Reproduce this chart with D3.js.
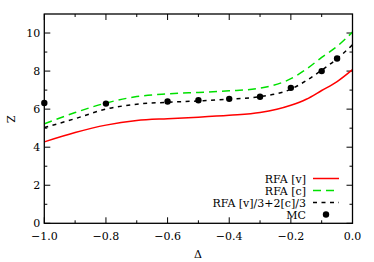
<!DOCTYPE html>
<html><head><meta charset="utf-8">
<script src="https://cdn.jsdelivr.net/npm/d3@7"></script>
<style>body{margin:0;background:#fff}svg{display:block}</style>
</head><body>
<script>
const deltas = [-1.0,-0.9,-0.8,-0.7,-0.6,-0.5,-0.4,-0.3,-0.2,-0.15,-0.1,-0.05,0.0];
const rfaV   = [4.28,4.77,5.16,5.40,5.50,5.58,5.68,5.82,6.20,6.52,6.98,7.45,8.08];
const rfaC   = [5.23,5.82,6.32,6.66,6.80,6.88,6.96,7.10,7.60,8.10,8.72,9.30,10.05];
const rfaMix = [5.03,5.50,6.00,6.26,6.36,6.43,6.52,6.66,7.05,7.50,8.05,8.65,9.38];
const mcX = [-1.0,-0.8,-0.6,-0.5,-0.4,-0.3,-0.2,-0.1,-0.05];
const mcY = [6.32,6.29,6.40,6.47,6.54,6.65,7.12,8.00,8.66];
const xTicks = [-1.0,-0.8,-0.6,-0.4,-0.2,0.0];
const yTicks = [0,2,4,6,8,10];
const legendLabels = ["RFA [v]","RFA [c]","RFA [v]/3+2[c]/3","MC"];

const W=374,H=262, L=44.3, R=352.5, T=14, B=223.3;
const font = "'DejaVu Serif',serif";
const fs = 11;
const svg = d3.select("body").append("svg").attr("width",W).attr("height",H);
const x = d3.scaleLinear().domain([-1,0]).range([L,R]);
const y = d3.scaleLinear().domain([0,11]).range([B,T]);

// ticks
const g = svg.append("g").attr("stroke","#000").attr("stroke-width",1);
const xMinor = d3.range(-9,0,2).map(i=>i/10);
const yMinor = [1,3,5,7,9];
xTicks.forEach(v=>{g.append("line").attr("x1",x(v)).attr("x2",x(v)).attr("y1",B).attr("y2",B-6);
  g.append("line").attr("x1",x(v)).attr("x2",x(v)).attr("y1",T).attr("y2",T+6);});
xMinor.forEach(v=>{g.append("line").attr("x1",x(v)).attr("x2",x(v)).attr("y1",B).attr("y2",B-3);
  g.append("line").attr("x1",x(v)).attr("x2",x(v)).attr("y1",T).attr("y2",T+3);});
yTicks.forEach(v=>{g.append("line").attr("y1",y(v)).attr("y2",y(v)).attr("x1",L).attr("x2",L+6);
  g.append("line").attr("y1",y(v)).attr("y2",y(v)).attr("x1",R).attr("x2",R-6);});
yMinor.forEach(v=>{g.append("line").attr("y1",y(v)).attr("y2",y(v)).attr("x1",L).attr("x2",L+3);
  g.append("line").attr("y1",y(v)).attr("y2",y(v)).attr("x1",R).attr("x2",R-3);});

// tick labels
svg.append("g").selectAll("text").data(xTicks).join("text")
  .attr("x",d=>x(d)).attr("y",B+17).attr("text-anchor","middle")
  .attr("font-family",font).attr("font-size",fs).text(d=>d3.format(".1f")(d));
svg.append("g").selectAll("text").data(yTicks).join("text")
  .attr("x",L-4).attr("y",d=>y(d)+4).attr("text-anchor","end")
  .attr("font-family",font).attr("font-size",fs).text(d=>d);
svg.append("text").attr("x",198).attr("y",258).attr("text-anchor","middle")
  .attr("font-family",font).attr("font-size",fs).text("Δ");
svg.append("text").attr("transform","translate(7,119) rotate(90)").attr("text-anchor","middle")
  .attr("font-family",font).attr("font-size",fs).text("Z");

// curves
const line = d3.line().x((d,i)=>x(deltas[i])).y(d=>y(d)).curve(d3.curveMonotoneX);
svg.append("clipPath").attr("id","c").append("rect").attr("x",L).attr("y",T).attr("width",R-L).attr("height",B-T);
const series = [
  {v:rfaV,c:"#ff0000",dash:null},
  {v:rfaC,c:"#00e000",dash:"8,5"},
  {v:rfaMix,c:"#000",dash:"4,4.5"}
];
series.forEach(s=>{
  svg.append("path").attr("clip-path","url(#c)").attr("d",line(s.v)).attr("fill","none")
    .attr("stroke",s.c).attr("stroke-width",1.5).attr("stroke-dasharray",s.dash);
});
svg.append("g").selectAll("circle").data(mcX).join("circle")
  .attr("cx",d=>x(d)).attr("cy",(d,i)=>y(mcY[i])).attr("r",3.2).attr("fill","#000");

// frame
svg.append("rect").attr("x",L).attr("y",T).attr("width",R-L).attr("height",B-T)
  .attr("fill","none").attr("stroke","#000").attr("stroke-width",1.3);

// legend
const ly = [178.5,190.5,202.5,214.5];
legendLabels.forEach((t,i)=>{
  svg.append("text").attr("x",306).attr("y",ly[i]+4).attr("text-anchor","end")
    .attr("font-family",font).attr("font-size",fs).text(t);
  if(i<3){
    svg.append("line").attr("x1",313).attr("x2",339).attr("y1",ly[i]).attr("y2",ly[i])
      .attr("stroke",series[i].c).attr("stroke-width",1.5).attr("stroke-dasharray",series[i].dash);
  } else {
    svg.append("circle").attr("cx",326).attr("cy",ly[i]).attr("r",3.2).attr("fill","#000");
  }
});
</script>
</body></html>
